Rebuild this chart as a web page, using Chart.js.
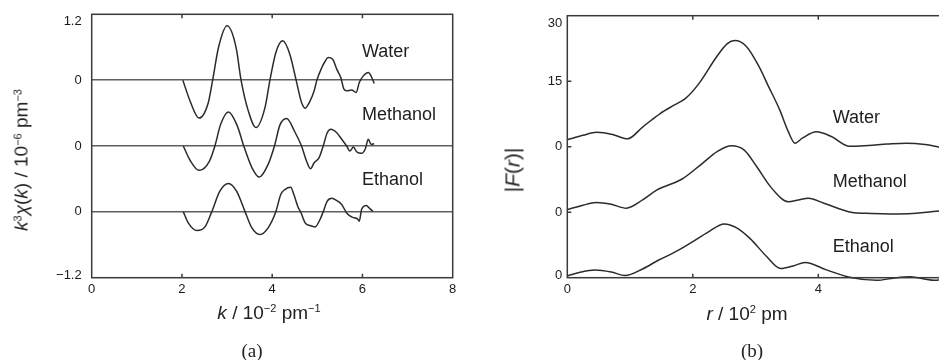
<!DOCTYPE html>
<html>
<head>
<meta charset="utf-8">
<script src="https://cdn.jsdelivr.net/npm/chart.js@4.4.1/dist/chart.umd.min.js"></script>
<style>
  html, body { margin: 0; padding: 0; background: #fff; overflow: hidden; }
  #wrap { position: relative; width: 939px; height: 360px; overflow: hidden; }
  canvas { position: absolute; top: 0; }
  #chartA { left: 0; }
  #chartB { left: 470px; }
  .lbl { position: absolute; font-family: "Liberation Sans", Arial, sans-serif; font-size: 19px; color: #222;
         white-space: nowrap; transform: translate(-50%, -50%); line-height: 1; }
  .lbl sup { font-size: 0.58em; vertical-align: 0.55em; line-height: 0; }
  .lbl.rot { transform: translate(-50%, -50%) rotate(-90deg); }
  .cap { position: absolute; font-family: "Liberation Serif", "Times New Roman", serif; font-size: 19px; color: #222;
         transform: translate(-50%, -50%); line-height: 1; }
</style>
</head>
<body>
<div id="wrap">
  <canvas id="chartA" width="470" height="360"></canvas>
  <canvas id="chartB" width="500" height="360"></canvas>

  <div class="lbl rot" style="left:21px; top:160px;"><i>k</i><sup>3</sup><i>χ</i>(<i>k</i>) / 10<sup>−6</sup> pm<sup>−3</sup></div>
  <div class="lbl" style="left:269px; top:312px;"><i>k</i> / 10<sup>−2</sup> pm<sup>−1</sup></div>
  <div class="cap" style="left:252px; top:350px;">(a)</div>

  <div class="lbl rot" style="left:512px; top:170px; font-size:21px;">|<i>F</i>(<i>r</i>)|</div>
  <div class="lbl" style="left:747px; top:313px;"><i>r</i> / 10<sup>2</sup> pm</div>
  <div class="cap" style="left:752px; top:350px;">(b)</div>
</div>

<script>
// series names (same order in both panels)
const seriesNames = ['Water', 'Methanol', 'Ethanol'];

// ---- panel (a): k^3 chi(k) ----
const waterK = [2.02, 2.18, 2.38, 2.58, 2.68, 2.81, 3.0, 3.2, 3.31, 3.47, 3.64, 3.84, 3.95, 4.08, 4.23, 4.39, 4.53, 4.65, 4.73, 4.84, 4.93, 4.99, 5.10, 5.17, 5.24, 5.34, 5.43, 5.52, 5.59, 5.65, 5.76, 5.86, 5.93, 6.02, 6.13, 6.19, 6.26];
const waterChi = [0, -0.19, -0.346, -0.21, 0, 0.297, 0.495, 0.297, 0, -0.28, -0.432, -0.25, 0, 0.25, 0.358, 0.237, 0, -0.204, -0.255, -0.189, -0.097, 0, 0.115, 0.17, 0.206, 0.19, 0.10, 0.024, -0.082, -0.097, -0.09, -0.113, -0.022, 0.039, 0.069, 0.039, -0.031];

const methanolK = [2.03, 2.18, 2.38, 2.61, 2.73, 2.86, 3.03, 3.22, 3.37, 3.55, 3.71, 3.91, 4.05, 4.17, 4.32, 4.5, 4.65, 4.76, 4.85, 4.93, 5.04, 5.13, 5.22, 5.30, 5.43, 5.54, 5.65, 5.72, 5.80, 5.87, 5.98, 6.06, 6.13, 6.19, 6.26];
const methanolChi = [0, -0.13, -0.222, -0.137, 0, 0.2, 0.31, 0.19, 0, -0.197, -0.283, -0.167, 0, 0.19, 0.25, 0.13, 0, -0.137, -0.207, -0.152, -0.106, 0, 0.121, 0.152, 0.121, 0.061, 0, -0.046, -0.009, -0.052, -0.067, -0.03, 0.061, 0.015, 0.02];

const ethanolK = [2.03, 2.14, 2.33, 2.51, 2.66, 2.84, 3.03, 3.21, 3.40, 3.55, 3.73, 3.91, 4.08, 4.19, 4.28, 4.41, 4.48, 4.58, 4.63, 4.73, 4.84, 4.95, 5.06, 5.13, 5.22, 5.32, 5.43, 5.54, 5.65, 5.76, 5.89, 5.93, 5.98, 6.08, 6.17, 6.23];
const ethanolChi = [0, -0.10, -0.17, -0.137, 0, 0.188, 0.258, 0.188, 0, -0.146, -0.207, -0.146, 0, 0.158, 0.203, 0.224, 0.158, 0.036, 0, -0.10, -0.125, -0.137, -0.07, 0, 0.097, 0.124, 0.103, 0.067, -0.01, -0.046, -0.064, -0.085, 0.021, 0.058, 0.027, 0.006];

const offsetsA = [0.6, 0, -0.6];            // vertical shift of each trace
const tickValuesA = [-1.2, -0.6, 0, 0.6, 1.2];
const tickLabelsA = ['−1.2', '0', '0', '0', '1.2'];

// ---- panel (b): |F(r)| ----
const waterR = [0, 0.25, 0.47, 0.72, 0.96, 1.2, 1.48, 1.7, 1.88, 2.1, 2.38, 2.55, 2.67, 2.85, 3.05, 3.2, 3.38, 3.52, 3.63, 3.75, 3.97, 4.2, 4.5, 4.8, 5.1, 5.4, 5.7, 6.0];
const waterF = [1.6, 2.6, 3.3, 2.8, 1.8, 4.5, 7.6, 9.5, 11.0, 14.5, 20.6, 23.6, 24.3, 23.0, 18.5, 14.0, 8.6, 3.5, 0.8, 2.0, 3.4, 2.4, 0.1, 0.3, 0.6, 0.8, 0.5, -0.3];

const methanolR = [0, 0.25, 0.46, 0.7, 0.94, 1.2, 1.43, 1.83, 2.12, 2.4, 2.62, 2.82, 3.02, 3.24, 3.52, 3.68, 3.84, 4.1, 4.52, 4.85, 5.15, 5.5, 6.0];
const methanolF = [0.6, 1.6, 2.2, 1.8, 0.9, 2.8, 5.1, 7.6, 10.8, 14.0, 15.2, 14.2, 10.4, 5.8, 2.4, 2.8, 3.2, 2.0, 0.0, -0.3, -0.4, -0.3, 0.4];

const ethanolR = [0, 0.22, 0.44, 0.7, 0.92, 1.2, 1.45, 1.72, 1.96, 2.25, 2.5, 2.7, 2.91, 3.18, 3.4, 3.6, 3.79, 4.13, 4.5, 4.93, 5.2, 5.46, 5.84, 6.0];
const ethanolF = [0.4, 1.3, 1.76, 1.3, 0.5, 2.0, 4.0, 5.9, 7.9, 10.5, 12.3, 11.4, 9.0, 4.8, 2.1, 2.7, 3.5, 1.8, 0.1, -0.6, -0.1, 0.2, -0.6, -0.4];

const offsetsB = [30, 15, 0];
const tickValuesB = [0, 15, 30, 45, 60];
const tickLabelsB = ['0', '0', '0', '15', '30'];

const FONT = '"Liberation Sans", Arial, sans-serif';
const INK = '#2b2b2b';

// frame round the plot area, short inward tick marks and the y tick labels
const framePlugin = {
    id: 'frame',
    afterDraw(chart, args, opts) {
        const { ctx, chartArea: a, scales } = chart;
        ctx.save();
        ctx.strokeStyle = opts.color;
        ctx.lineWidth = opts.width;
        ctx.strokeRect(a.left, a.top, a.right - a.left, a.bottom - a.top);
        ctx.beginPath();
        scales.x.ticks.forEach(t => {
            const px = scales.x.getPixelForValue(t.value);
            if (px <= a.left + 1 || px >= a.right - 1) return;
            ctx.moveTo(px, a.bottom); ctx.lineTo(px, a.bottom - opts.len);
            ctx.moveTo(px, a.top); ctx.lineTo(px, a.top + opts.len);
        });
        if (opts.yTicks) {
            scales.y.ticks.forEach(t => {
                const py = scales.y.getPixelForValue(t.value);
                if (py <= a.top + 1 || py >= a.bottom - 1) return;
                ctx.moveTo(a.left, py); ctx.lineTo(a.left + opts.len, py);
            });
        }
        ctx.stroke();

        // y labels: the end ones are nudged inwards, as in the print
        ctx.font = opts.labelFont;
        ctx.fillStyle = opts.labelColor;
        ctx.textAlign = 'right';
        ctx.textBaseline = 'middle';
        const last = scales.y.ticks.length - 1;
        scales.y.ticks.forEach((t, i) => {
            let py = scales.y.getPixelForValue(t.value);
            if (i === last) py += opts.shiftTop;
            if (i === 0) py += opts.shiftBottom;
            ctx.fillText(t.label, a.left - opts.labelPad, py);
        });
        ctx.restore();
    }
};

// series names written next to their traces
const namesPlugin = {
    id: 'names',
    afterDatasetsDraw(chart, args, opts) {
        const { ctx, scales } = chart;
        ctx.save();
        ctx.font = opts.font;
        ctx.fillStyle = opts.color;
        ctx.textAlign = 'left';
        ctx.textBaseline = 'middle';
        chart.data.datasets.forEach((ds, i) => {
            const p = opts.anchors[i];
            ctx.fillText(ds.label, scales.x.getPixelForValue(p.x), scales.y.getPixelForValue(p.y));
        });
        ctx.restore();
    }
};

function buildSeries(xs, ys, offset) {
    return xs.map((x, i) => ({ x: x, y: ys[i] + offset }));
}

function lineDataset(label, points, clip) {
    return {
        label: label,
        data: points,
        borderColor: INK,
        borderWidth: 1.5,
        pointRadius: 0,
        cubicInterpolationMode: 'monotone',
        fill: false,
        clip: clip
    };
}

function makeChart(id, cfg) {
    return new Chart(document.getElementById(id), {
        type: 'line',
        data: { datasets: cfg.datasets },
        plugins: [framePlugin, namesPlugin],
        options: {
            responsive: false,
            animation: false,
            events: [],
            layout: { padding: { left: 0, top: cfg.top, right: cfg.right, bottom: 0 } },
            plugins: {
                legend: { display: false },
                tooltip: { enabled: false },
                frame: {
                    color: '#3a3a3a', width: 1.5, len: 4, yTicks: cfg.yTicks,
                    labelFont: '13px ' + FONT, labelColor: '#1a1a1a', labelPad: cfg.tickPad,
                    shiftTop: 7.5, shiftBottom: -2.5
                },
                names: { font: '18px ' + FONT, color: '#1e1e1e', anchors: cfg.anchors }
            },
            scales: {
                x: {
                    type: 'linear',
                    min: cfg.xMin, max: cfg.xMax,
                    ticks: { stepSize: 2, padding: 4, color: '#1a1a1a', font: { family: FONT, size: 13 } },
                    grid: { display: false, drawTicks: false },
                    border: { display: false },
                    afterFit: s => { s.height = 82.3; }
                },
                y: {
                    type: 'linear',
                    min: cfg.yMin, max: cfg.yMax,
                    afterBuildTicks: s => { s.ticks = cfg.tickValues.map(v => ({ value: v })); },
                    ticks: {
                        display: false,
                        callback: (v, i) => cfg.tickLabels[i]
                    },
                    grid: {
                        drawTicks: false,
                        lineWidth: 1.6,
                        color: c => (cfg.zeroLines && c.tick && cfg.zeroLines.includes(c.tick.value)) ? '#5e5e5e' : 'rgba(0,0,0,0)'
                    },
                    border: { display: false },
                    afterFit: s => { s.width = cfg.yWidth; }
                }
            }
        }
    });
}

makeChart('chartA', {
    datasets: [
        lineDataset(seriesNames[0], buildSeries(waterK, waterChi, offsetsA[0]), 0),
        lineDataset(seriesNames[1], buildSeries(methanolK, methanolChi, offsetsA[1]), 0),
        lineDataset(seriesNames[2], buildSeries(ethanolK, ethanolChi, offsetsA[2]), 0)
    ],
    xMin: 0, xMax: 8, yMin: -1.2, yMax: 1.2,
    tickValues: tickValuesA, tickLabels: tickLabelsA, tickPad: 10,
    zeroLines: offsetsA, yTicks: false,
    yWidth: 91.7, top: 14.3, right: 17.3,
    anchors: [{ x: 5.99, y: 0.86 }, { x: 5.99, y: 0.28 }, { x: 5.99, y: -0.31 }]
});

makeChart('chartB', {
    datasets: [
        lineDataset(seriesNames[0], buildSeries(waterR, waterF, offsetsB[0]), 4),
        lineDataset(seriesNames[1], buildSeries(methanolR, methanolF, offsetsB[1]), 4),
        lineDataset(seriesNames[2], buildSeries(ethanolR, ethanolF, offsetsB[2]), 4)
    ],
    xMin: 0, xMax: 6, yMin: 0, yMax: 60,
    tickValues: tickValuesB, tickLabels: tickLabelsB, tickPad: 5,
    zeroLines: null, yTicks: true,
    yWidth: 97.3, top: 15.7, right: 26.2,
    anchors: [{ x: 4.23, y: 36.5 }, { x: 4.23, y: 21.8 }, { x: 4.23, y: 7.1 }]
});
</script>
</body>
</html>
